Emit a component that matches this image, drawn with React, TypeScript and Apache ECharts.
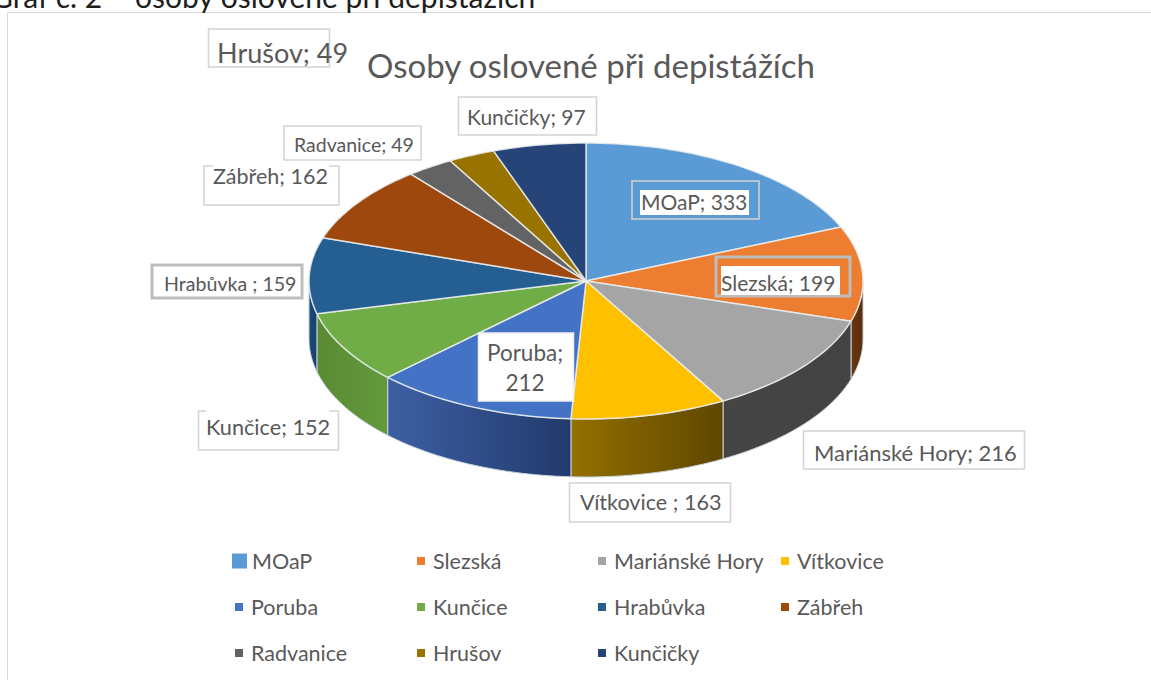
import React, { useEffect, useRef } from "react";
import * as echarts from "echarts";

const categories = ["MOaP", "Slezská", "Mariánské Hory", "Vítkovice", "Poruba", "Kunčice", "Hrabůvka", "Zábřeh", "Radvanice", "Hrušov", "Kunčičky"];
const values = [333, 199, 216, 163, 212, 152, 159, 162, 49, 49, 97];
const labelTexts = ["MOaP; 333", "Slezská; 199", "Mariánské Hory; 216", "Vítkovice ; 163", "Poruba;\n212", "Kunčice; 152", "Hrabůvka ; 159", "Zábřeh; 162", "Radvanice; 49", "Hrušov; 49", "Kunčičky; 97"];
const topColors = ["#5B9BD5", "#ED7D31", "#A5A5A5", "#FFC000", "#4472C4", "#70AD47", "#255E91", "#9E480E", "#636363", "#997300", "#264478"];
const sideFrom = ["#37618A", "#6A3510", "#454545", "#947000", "#3D5FA3", "#5A8A34", "#1B4B78", "#6A3009", "#444444", "#664D00", "#182E52"];
const sideTo = ["#37618A", "#5C2D0C", "#434343", "#5E4700", "#223A6C", "#639A3C", "#15406A", "#6A3009", "#444444", "#664D00", "#182E52"];
const pageTitle = "Graf č. 2 – osoby oslovené při depistážích";
const chartTitle = "Osoby oslovené při depistážích";

const FONT = "Lato";
const TEXT = "#595959";
const CX = 586, CY = 281, RX = 277, RY = 138, DEPTH = 58;
const total = values.reduce((a, b) => a + b, 0);

const pt = (deg: number, dy = 0): number[] => {
  const r = (deg * Math.PI) / 180;
  return [CX + RX * Math.sin(r), CY - RY * Math.cos(r) + dy];
};
const arc = (a: number, b: number, dy = 0): number[][] => {
  const n = Math.max(2, Math.ceil(Math.abs(b - a) / 1.5));
  const out: number[][] = [];
  for (let i = 0; i <= n; i++) out.push(pt(a + ((b - a) * i) / n, dy));
  return out;
};

const renderSlice = (index: number) => (_p: any, api: any) => {
  const v = api.value(0);
  const before = values.slice(0, index).reduce((a, b) => a + b, 0);
  const a = (before / total) * 360;
  const b = ((before + v) / total) * 360;
  const children: any[] = [];
  const sa = Math.max(a, 90), sb = Math.min(b, 270);
  if (sb > sa) {
    children.push({
      type: "polygon",
      shape: { points: [...arc(sa, sb), ...arc(sb, sa, DEPTH)] },
      style: {
        fill: new echarts.graphic.LinearGradient(0, 0, 1, 0, [
          { offset: 0, color: sideFrom[index] },
          { offset: 1, color: sideTo[index] },
        ]),
        stroke: "#C9D2DC",
        lineWidth: 1,
      },
    });
  }
  children.push({
    type: "polygon",
    shape: { points: [[CX, CY], ...arc(a, b)] },
    style: { fill: topColors[index], stroke: "rgba(235,240,240,0.85)", lineWidth: 1.5, lineJoin: "round" },
  });
  return { type: "group", children };
};

const box = (x: number, y: number, w: number, h: number, lw: number, stroke: string, fill: string) => ({
  type: "rect", shape: { x, y, width: w, height: h }, style: { fill, stroke, lineWidth: lw }, z: 10,
});
const patch = (x: number, y: number, w: number, h: number) => ({
  type: "rect", shape: { x, y, width: w, height: h }, style: { fill: "#fff" }, z: 11,
});
const txt = (text: string, x: number, y: number, size: number) => ({
  type: "text", x, y, z: 12,
  style: { text, font: `${size}px ${FONT}`, fill: TEXT, verticalAlign: "middle", align: "left" },
});
const LIGHT = "#D4D4D4";
const THICK = "#BDBDBD";
const NONE = "rgba(0,0,0,0)";

const buildGraphics = () => [
  { type: "polyline", shape: { points: [[7.5, 690], [7.5, 12.5], [1160, 12.5]] }, style: { stroke: "#D9D9D9", lineWidth: 1, fill: "none" }, z: 1 },
  { type: "text", x: -9, y: 11, z: 2, style: { text: pageTitle, font: `30px ${FONT}`, fill: "#1E1E1E", align: "left", verticalAlign: "bottom" } },
  { type: "text", x: 367, y: 65, z: 12, style: { text: chartTitle, font: `33px ${FONT}`, fill: TEXT, verticalAlign: "middle", align: "left" } },
  box(208.5, 29, 121, 38, 1.5, LIGHT, NONE), txt(labelTexts[9], 217, 52, 27),
  box(458.5, 97, 138, 38, 1.5, LIGHT, "#fff"), txt(labelTexts[10], 467, 116, 21),
  box(284, 126, 137, 34, 1.5, LIGHT, "#fff"), txt(labelTexts[8], 294, 144, 19.5),
  box(204, 166, 135, 39, 1.5, LIGHT, "#fff"), patch(213, 163, 116, 12), txt(labelTexts[7], 213, 176, 21.5),
  box(632, 181, 127, 38, 1.5, LIGHT, NONE), patch(640, 190, 109, 25), txt(labelTexts[0], 641, 201, 21),
  box(716, 257, 134, 39, 3, THICK, NONE), patch(721, 266, 119, 29), txt(labelTexts[1], 721, 282, 21),
  box(803.5, 431, 221, 38, 1.5, LIGHT, "#fff"), txt(labelTexts[2], 814, 452, 22),
  box(569.5, 483, 161, 39, 1.5, LIGHT, "#fff"), txt(labelTexts[3], 580, 502, 21.6),
  box(198.5, 411, 140, 39, 1.5, LIGHT, "#fff"), patch(206, 408, 123, 10), txt(labelTexts[5], 206, 427, 21.7),
  box(152, 265, 150, 33, 3, THICK, "#fff"), txt(labelTexts[6], 164, 283, 19.6),
  box(478.5, 333, 95, 68, 1.5, "#EFEFEF", "#fff"),
  { type: "text", x: 525, y: 367, z: 12, style: { text: labelTexts[4], font: `22.5px ${FONT}`, fill: TEXT, align: "center", verticalAlign: "middle", lineHeight: 30 } },
];

const legendBase = {
  orient: "vertical", selectedMode: false, icon: "rect", itemWidth: 8, itemHeight: 8, itemGap: 22,
  textStyle: { fontFamily: FONT, fontSize: 21.5, color: TEXT, lineHeight: 24, padding: [0, 0, 0, 3] },
};
const legendCols = [
  { left: 227, top: 544, data: [categories[0]], itemWidth: 15, itemHeight: 15, textStyle: { ...legendBase.textStyle, padding: [0, 0, 0, 0] } },
  { left: 230, top: 590, data: [categories[4], categories[8]] },
  { left: 412, top: 544, data: [categories[1], categories[5], categories[9]] },
  { left: 593, top: 544, data: [categories[2], categories[6], categories[10]] },
  { left: 776, top: 544, data: [categories[3], categories[7]] },
];

export default function App() {
  const ref = useRef<HTMLDivElement>(null);
  useEffect(() => {
    document.body.style.margin = "0";
    const chart = echarts.init(ref.current!, undefined, { renderer: "svg" });
    chart.setOption({
      animation: false,
      backgroundColor: "#fff",
      legend: legendCols.map((c) => ({ ...legendBase, ...c })),
      series: categories.map((name, i) => ({
        type: "custom",
        name,
        coordinateSystem: "none",
        itemStyle: { color: topColors[i] },
        data: [[values[i]]],
        renderItem: renderSlice(i),
        silent: true,
      })),
      graphic: buildGraphics(),
    });
    return () => chart.dispose();
  }, []);
  return <div ref={ref} style={{ width: 1151, height: 680 }} />;
}
